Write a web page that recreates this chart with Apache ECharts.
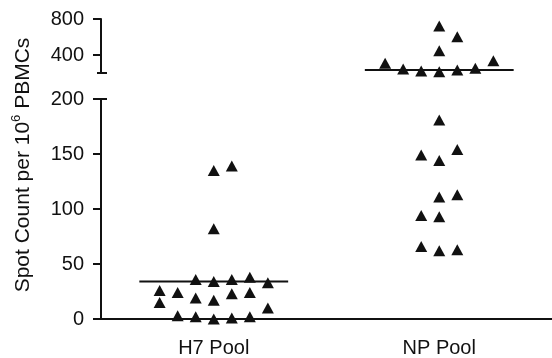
<!DOCTYPE html>
<html>
<head>
<meta charset="utf-8">
<script src="https://cdn.jsdelivr.net/npm/echarts@6/dist/echarts.min.js"></script>
<style>
  html, body { margin: 0; padding: 0; background: #fff; }
  #chart { width: 552px; height: 358px; }
</style>
</head>
<body>
<div id="chart"></div>
<script>
// groups along the x axis
const categories = ['H7 Pool', 'NP Pool']
// jitter column of each triangle and its value
const h7Cols = [0, 1, 0, -1, 0, 1, 2, 3, -3, -3, -2, -1, 0, 1, 2, 3, -2, -1, 0, 1, 2]
const h7Values = [135, 139, 82, 36, 34, 36, 38, 33, 26, 15, 24, 19, 17, 23, 24, 10, 3, 2, 0, 1, 2]
const npCols = [0, 1, 0, -3, -2, -1, 0, 1, 2, 3, 0, -1, 0, 1, 0, 1, -1, 0, -1, 0, 1]
const npValues = [722, 603, 448, 308, 244, 222, 214, 233, 252, 337, 181, 149, 144, 154, 111, 113, 94, 93, 66, 62, 63]
// horizontal lines (group means)
const meanValues = [34, 232]
// tick labels
const lowerTicks = [0, 50, 100, 150, 200]
const upperTicks = [400, 800]

const breakAt = 200
const step = 0.08
const halfLine = 0.33
const font = 'Liberation Sans, Arial, sans-serif'
const ink = '#111'

const toPoints = (cols, vals, center) => cols.map((c, i) => [center + c * step, vals[i]])
const h7Pts = toPoints(h7Cols, h7Values, 0.5)
const npPts = toPoints(npCols, npValues, 1.5)

const chart = echarts.init(document.getElementById('chart'))

const triangle = {
    type: 'scatter',
    symbol: 'triangle',
    symbolSize: [12, 11],
    itemStyle: { color: ink, opacity: 1 },
    clip: false,
    silent: true
}
const meanLine = {
    type: 'line',
    symbol: 'none',
    lineStyle: { color: ink, width: 2 },
    silent: true
}
const yBase = {
    type: 'value',
    axisLine: { show: true, lineStyle: { color: ink, width: 2 } },
    axisTick: { show: true, length: 8, lineStyle: { color: ink, width: 2 } },
    axisLabel: { color: ink, fontSize: 20, fontFamily: font, margin: 17 },
    splitLine: { show: false }
}

chart.setOption({
    animation: false,
    grid: [
        { left: 101, right: 0, top: 99, bottom: 39 },
        { left: 101, right: 0, top: 19, height: 54 }
    ],
    xAxis: [
        { type: 'value', gridIndex: 0, min: 0, max: 2, show: false },
        {
            type: 'category', gridIndex: 0, position: 'bottom', data: categories,
            boundaryGap: true,
            axisLine: { lineStyle: { color: ink, width: 2 } },
            axisTick: { alignWithLabel: true, length: 8, lineStyle: { color: ink, width: 2 } },
            axisLabel: { color: ink, fontSize: 20, fontFamily: font, margin: 19 }
        },
        { type: 'value', gridIndex: 1, min: 0, max: 2, show: false }
    ],
    yAxis: [
        Object.assign({}, yBase, {
            gridIndex: 0, min: 0, max: breakAt, interval: 50,
            axisTick: Object.assign({}, yBase.axisTick, { customValues: lowerTicks }),
            axisLabel: Object.assign({}, yBase.axisLabel, { customValues: lowerTicks })
        }),
        Object.assign({}, yBase, {
            gridIndex: 1, min: breakAt, max: 800, interval: 200,
            axisTick: Object.assign({}, yBase.axisTick, { customValues: upperTicks }),
            axisLabel: Object.assign({}, yBase.axisLabel, { customValues: upperTicks })
        })
    ],
    series: [
        Object.assign({}, triangle, { xAxisIndex: 0, yAxisIndex: 0, data: h7Pts }),
        Object.assign({}, triangle, { xAxisIndex: 0, yAxisIndex: 0, data: npPts.filter(p => p[1] <= breakAt) }),
        Object.assign({}, triangle, { xAxisIndex: 2, yAxisIndex: 1, data: npPts.filter(p => p[1] > breakAt) }),
        Object.assign({}, meanLine, { xAxisIndex: 0, yAxisIndex: 0, data: [[0.5 - halfLine, meanValues[0]], [0.5 + halfLine, meanValues[0]]] }),
        Object.assign({}, meanLine, { xAxisIndex: 2, yAxisIndex: 1, data: [[1.5 - halfLine, meanValues[1]], [1.5 + halfLine, meanValues[1]]] })
    ]
})

// end caps of the broken axis + rotated axis title
const lowTop = chart.convertToPixel({ gridIndex: 0 }, [0, breakAt])
const upBottom = chart.convertToPixel({ gridIndex: 1 }, [0, breakAt])
chart.setOption({
    graphic: [
        { type: 'line', shape: { x1: lowTop[0], y1: lowTop[1], x2: lowTop[0] + 6, y2: lowTop[1] }, style: { stroke: ink, lineWidth: 2 } },
        { type: 'line', shape: { x1: upBottom[0] - 4, y1: upBottom[1], x2: upBottom[0] + 6, y2: upBottom[1] }, style: { stroke: ink, lineWidth: 2 } },
        {
            type: 'text', x: 22, y: 165, rotation: Math.PI / 2,
            style: {
                text: '{a|Spot Count per 10}{s|6}{a| PBMCs}',
                align: 'center', verticalAlign: 'middle',
                rich: {
                    a: { fontSize: 21, fontFamily: font, fill: ink, lineHeight: 24, verticalAlign: 'bottom' },
                    s: { fontSize: 13, fontFamily: font, fill: ink, lineHeight: 24, verticalAlign: 'top' }
                }
            }
        }
    ]
})
</script>
</body>
</html>
